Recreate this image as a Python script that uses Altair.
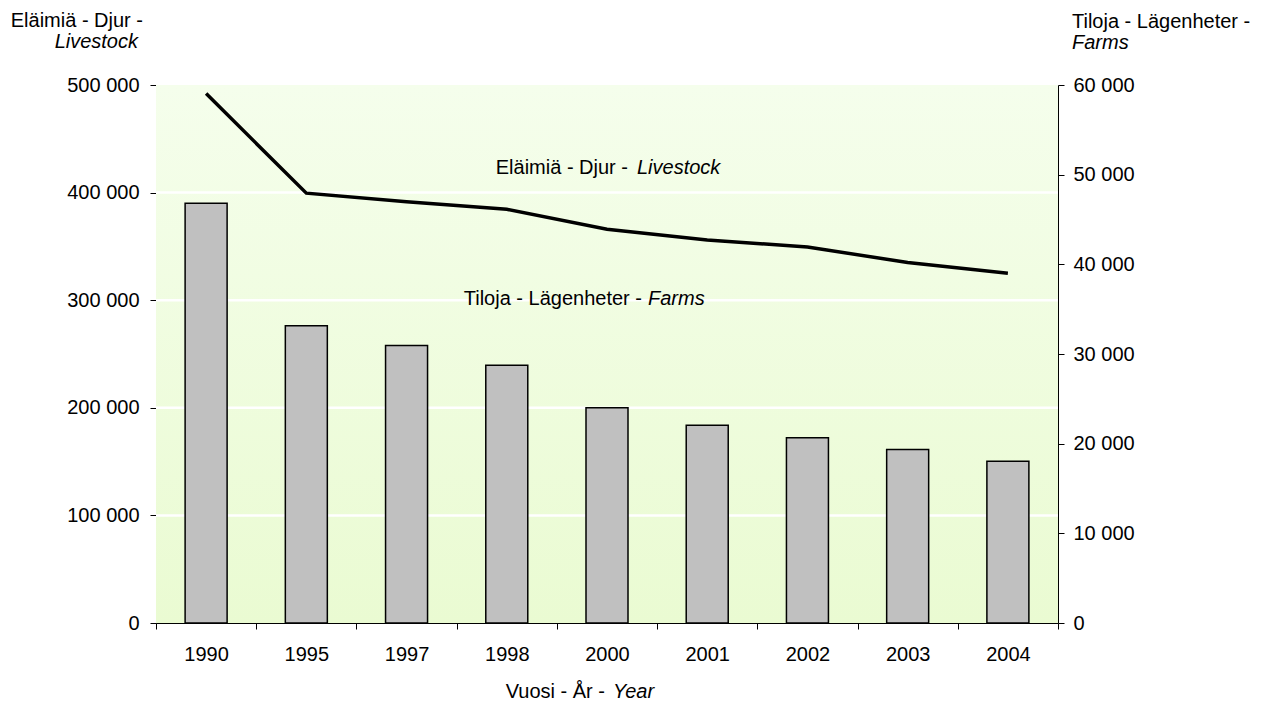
import altair as alt
import pandas as pd

years = ["1990", "1995", "1997", "1998", "2000", "2001", "2002", "2003", "2004"]
farms = [46800, 33150, 30950, 28750, 24000, 22050, 20650, 19350, 18050]
livestock = [492000, 399500, 391500, 384500, 366000, 356000, 349500, 335000, 325000]
left_ticks = [0, 100000, 200000, 300000, 400000, 500000]
right_ticks = [0, 10000, 20000, 30000, 40000, 50000, 60000]
grid_vals = [100000, 200000, 300000, 400000]

df = pd.DataFrame({"Year": years, "Farms": farms, "Livestock": livestock})
grid_df = pd.DataFrame({"g": grid_vals})

FONT = "Liberation Sans"
FS = 20
W, H = 902, 538
fmt = "replace(format(datum.value, ','), ',', ' ')"

x_enc = alt.X(
    "Year:N", sort=years,
    scale=alt.Scale(paddingInner=0, paddingOuter=0),
    axis=alt.Axis(title=None, labelAngle=0, tickBand="extent", labelPadding=15,
                  tickSize=6, domainColor="black", tickColor="black", grid=False,
                  labelFont=FONT, labelFontSize=FS, labelColor="black"),
)

bg = alt.Chart(alt.Data(values=[{}])).mark_rect(
    fill=alt.LinearGradient(
        gradient="linear", x1=0, y1=0, x2=0, y2=1,
        stops=[alt.GradientStop(color="#F5FEEC", offset=0),
               alt.GradientStop(color="#EAFBD2", offset=1)],
    ),
    strokeWidth=0,
).encode(x=alt.value(0), x2=alt.value("width"), y=alt.value(0), y2=alt.value("height"))

grid = alt.Chart(grid_df).mark_rule(color="white", strokeWidth=2.5).encode(
    y=alt.Y("g:Q", scale=alt.Scale(domain=[0, 500000], nice=False), axis=None)
)

bars = alt.Chart(df).mark_bar(width=42, color="#C0C0C0", stroke="black", strokeWidth=1.5).encode(
    x=x_enc,
    y=alt.Y("Farms:Q", scale=alt.Scale(domain=[0, 60000], nice=False),
            axis=alt.Axis(orient="right", title=None, values=right_ticks, grid=False,
                          labelExpr=fmt, labelPadding=9, tickSize=6,
                          domainColor="black", tickColor="black",
                          labelFont=FONT, labelFontSize=FS, labelColor="black")),
)

line = alt.Chart(df).mark_line(color="black", strokeWidth=3.5).encode(
    x=x_enc,
    y=alt.Y("Livestock:Q", scale=alt.Scale(domain=[0, 500000], nice=False),
            axis=alt.Axis(orient="left", title=None, values=left_ticks, grid=False,
                          labelExpr=fmt, labelPadding=11, tickSize=6,
                          domainColor="black", tickColor="black",
                          labelFont=FONT, labelFontSize=FS, labelColor="black")),
)


def txt(s, xv, yv, align, italic=False):
    return alt.Chart(alt.Data(values=[{}])).mark_text(
        text=s, align=align, baseline="alphabetic", font=FONT, fontSize=FS,
        fontStyle="italic" if italic else "normal", color="black",
    ).encode(x=alt.value(xv), y=alt.value(yv))


texts = [
    # annotations
    txt("Eläimiä - Djur -", 472, 89, "right"),
    txt("Livestock", 481, 89, "left", True),
    txt("Tiloja - Lägenheter -", 486, 220, "right"),
    txt("Farms", 492, 220, "left", True),
    # left axis title
    txt("Eläimiä - Djur -", -13, -58, "right"),
    txt("Livestock", -18, -37, "right", True),
    # right axis title
    txt("Tiloja - Lägenheter -", 916, -57, "left"),
    txt("Farms", 916, -36, "left", True),
    # x axis title
    txt("Vuosi - År -", 449, H + 75, "right"),
    txt("Year", 457, H + 75, "left", True),
]

chart = alt.layer(bg, grid, bars, line, *texts).resolve_scale(y="independent").properties(
    width=W, height=H,
    autosize=alt.AutoSizeParams(type="none"),
    padding={"left": 148, "top": 77, "right": 206, "bottom": 84},
    background="white",
).configure_view(stroke=None).configure_axis(zindex=1)

chart.save("out.html", embed_options={"renderer": "svg", "actions": False})
